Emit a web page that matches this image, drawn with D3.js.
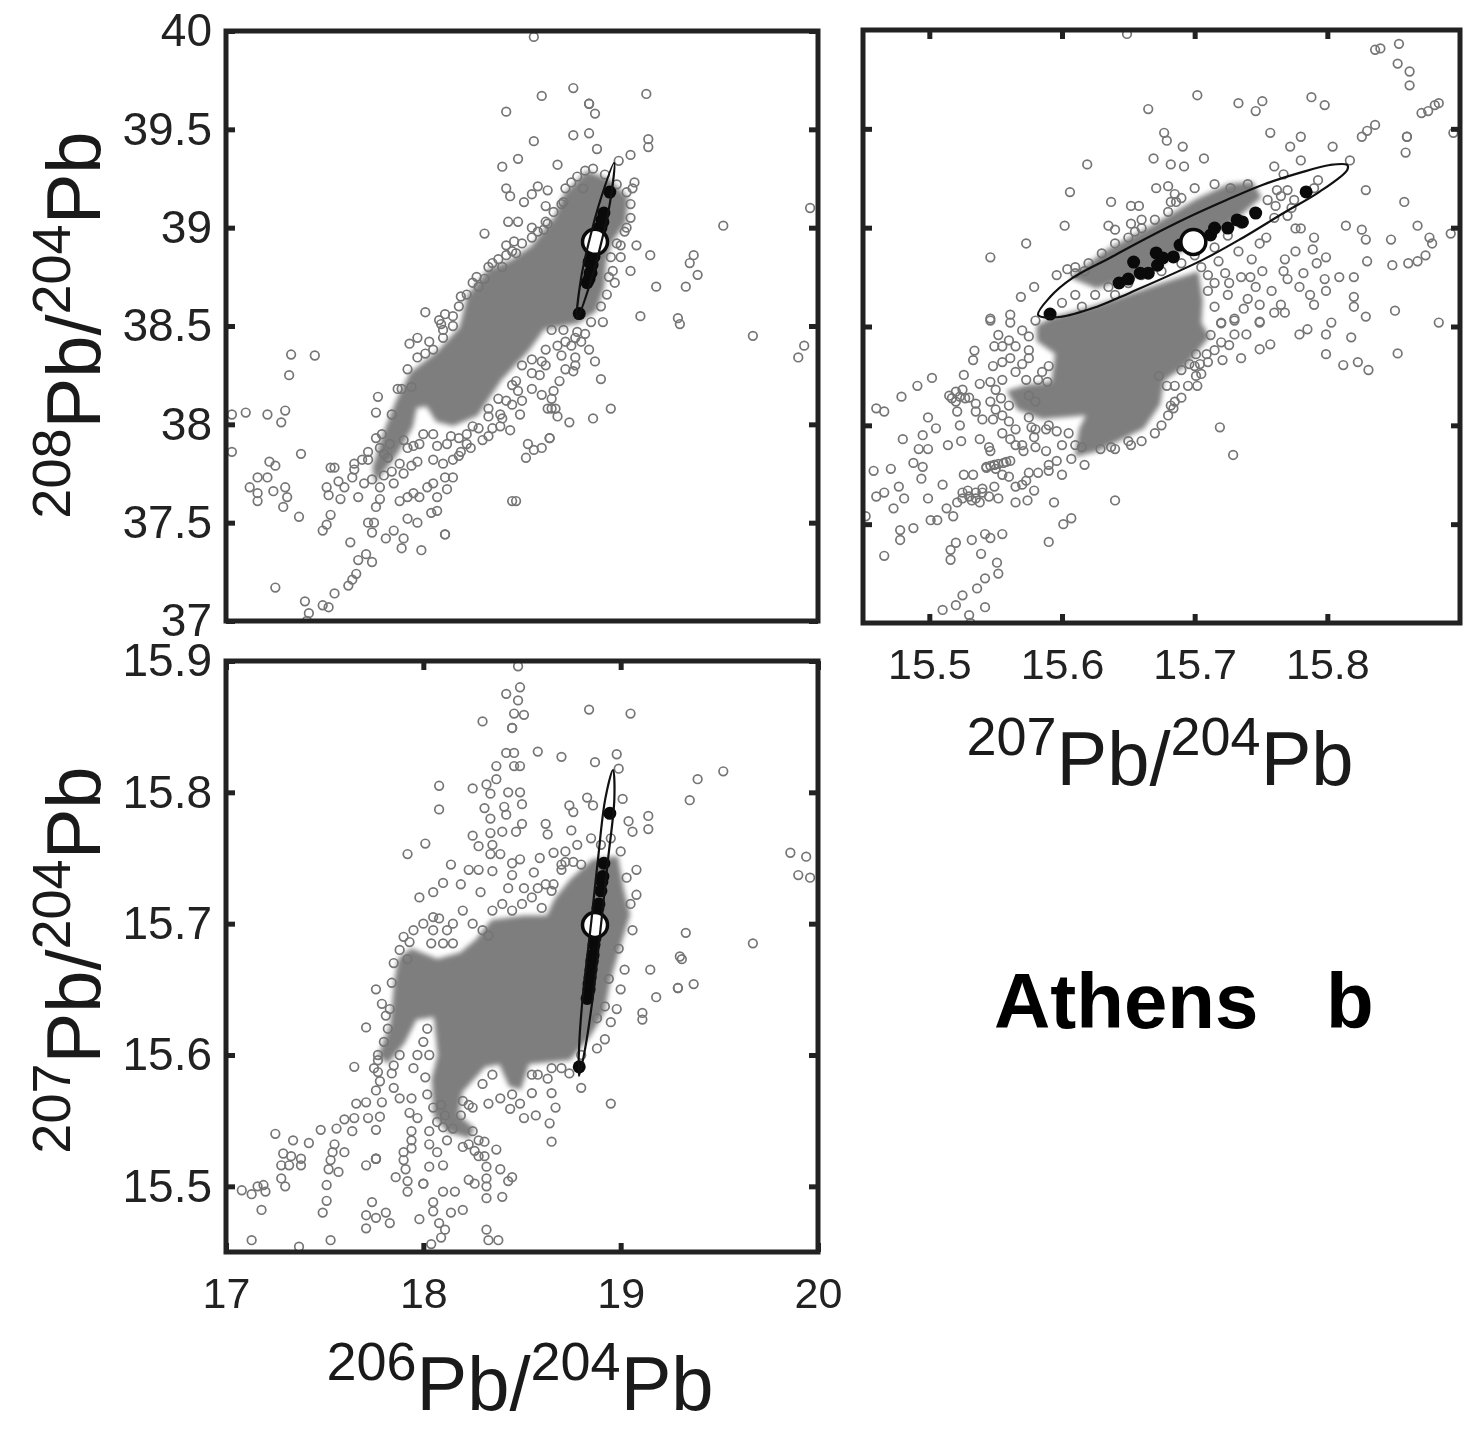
<!DOCTYPE html>
<html>
<head>
<meta charset="utf-8">
<script src="https://cdn.jsdelivr.net/npm/d3@7"></script>
<style>
  body { margin: 0; background: #fff; }
  svg { display: block; filter: blur(0.7px); font-family: "Liberation Sans", Arial, sans-serif; }
  path.dense { filter: blur(2.5px); }
</style>
</head>
<body>
<div id="chart"></div>
<script>
// values
// 206Pb/204Pb vs 208Pb/204Pb
const cloud0608 = [
  [18.56,39.97],[18.76,39.71],[18.60,39.67],[18.42,39.59],[18.84,39.63],[18.84,39.63],[18.87,39.58],[19.13,39.68],
  [18.76,39.47],[18.84,39.48],[18.56,39.44],[18.88,39.40],[19.14,39.45],[19.14,39.41],[19.05,39.37],[18.99,39.34],
  [18.48,39.35],[18.40,39.31],[18.68,39.32],[18.42,39.20],[18.44,39.16],[18.55,39.17],[18.58,39.21],[18.63,39.19],
  [18.51,39.13],[18.62,39.11],[18.75,39.23],[18.81,39.20],[19.07,39.23],[19.06,39.20],[18.71,39.13],[18.43,39.03],
  [18.48,39.03],[18.62,39.03],[18.31,38.97],[18.55,39.00],[18.61,38.99],[18.46,38.93],[18.42,38.91],[18.47,38.87],
  [18.42,38.86],[19.02,38.98],[19.00,38.91],[19.08,38.91],[19.00,38.85],[19.15,38.86],[19.37,38.86],[19.35,38.82],
  [19.39,38.76],[19.05,38.78],[18.96,38.78],[18.97,38.72],[19.18,38.70],[19.33,38.70],[19.52,39.01],[19.96,39.10],
  [19.10,38.55],[19.29,38.54],[19.30,38.51],[18.91,38.52],[18.01,38.57],[18.11,38.56],[18.08,38.53],[18.19,38.65],
  [18.27,38.75],[18.31,38.74],[18.35,38.82],
  [17.33,38.355],[17.45,38.35],[17.32,38.25],[17.03,38.05],[17.10,38.06],[17.21,38.05],[17.30,38.07],[17.28,38.01],
  [17.03,37.86],[17.38,37.85],[17.22,37.81],[17.25,37.79],[17.16,37.73],[17.21,37.73],[17.12,37.68],[17.16,37.65],
  [17.16,37.61],[17.24,37.66],[17.30,37.68],[17.31,37.63],[17.29,37.58],[17.37,37.53],[17.53,37.78],[17.55,37.78],
  [17.57,37.71],[17.60,37.68],[17.51,37.68],[17.52,37.64],[17.58,37.62],[17.53,37.54],[17.51,37.49],[17.49,37.46],
  [17.63,37.40],[17.72,37.50],[17.75,37.50],[17.74,37.45],[17.67,37.31],[17.71,37.34],[17.74,37.30],[17.66,37.24],
  [17.64,37.21],[17.62,37.18],[17.25,37.17],[17.55,37.14],[17.40,37.10],[17.49,37.08],[17.52,37.07],[17.42,37.04],
  [17.41,37.00],[17.65,37.80],[17.65,37.77],[17.69,37.82],[17.72,37.86],[17.64,37.73],[17.70,37.70],[17.67,37.63],
  [17.76,37.58],[17.81,37.42],[17.85,37.46],[17.90,37.42],[17.89,37.37],[17.99,37.36],[18.11,37.44],[18.11,37.44],
  [17.92,37.52],[17.97,37.50],[17.88,37.61],[17.92,37.63],[17.95,37.65],[17.98,37.63],[18.02,37.68],[18.05,37.70],
  [18.07,37.63],[18.04,37.55],[18.07,37.56],[17.78,37.62],[18.15,37.73],[18.11,37.73],[18.12,37.67],[18.45,37.61],
  [18.47,37.61],[18.52,37.83],[18.53,37.90],[18.56,37.87],[18.60,37.88],[18.64,37.93],[18.64,37.93],[18.74,38.01],
  [18.86,38.03],[18.95,38.08],[18.90,38.23],[18.87,38.32],[18.84,38.38],[19.67,38.45],[19.93,38.40],[19.90,38.34],
  [18.65,38.08],[18.67,38.08],[18.63,38.08],[18.68,38.04],[18.66,38.17],[18.65,38.13],[18.69,38.22],[18.77,38.34],
  [18.76,38.27],[18.77,38.30],[18.82,38.46],[18.77,38.44],[18.65,38.48],[18.71,38.48],[18.55,38.33],[18.59,38.25],
  [18.47,38.22],[18.48,38.17],[18.49,38.05],[18.44,37.97],[18.39,37.99],[18.33,37.94],[18.24,37.88],[18.19,37.86],
  [18.15,37.82],[18.10,37.80],[18.05,37.82],[18.07,37.89],[18.14,37.94],[18.25,37.99],[18.33,38.04],[18.39,38.05],
  [17.95,37.89],[17.94,37.79],[17.97,37.81],[17.82,37.83],[17.76,37.93],[17.76,38.06],[17.77,38.14],[17.89,38.18],
  [17.94,38.19],[18.01,38.36],[17.93,38.41],[17.97,38.44],[18.05,38.38],[18.09,38.51],[18.10,38.48],
  // fringe of the saturated part
  [18.15,38.55],[18.18,38.60],[18.22,38.66],[18.25,38.72],[18.28,38.70],[18.33,38.80],[18.38,38.84],[18.40,38.80],
  [18.45,38.88],[18.50,38.92],[18.55,38.95],[18.58,38.98],[18.63,39.02],[18.66,39.08],[18.70,39.12],[18.72,39.20],
  [18.78,39.26],[18.82,39.29],[18.86,39.30],[18.92,39.27],[18.98,39.22],[19.03,39.18],[19.05,39.12],[19.05,39.05],
  [19.03,39.00],[18.98,38.92],[18.95,38.85],[18.94,38.75],[18.93,38.66],[18.90,38.60],[18.85,38.52],[18.78,38.47],
  [18.72,38.42],[18.68,38.40],[18.62,38.38],[18.60,38.32],[18.55,38.26],[18.50,38.30],[18.45,38.20],[18.42,38.12],
  [18.38,38.13],[18.33,38.08],[18.28,37.98],[18.22,37.95],[18.18,37.93],[18.12,37.90],[18.05,37.95],[18.00,37.95],
  [17.98,37.90],[17.92,37.88],[17.90,37.92],[17.88,37.80],[17.84,37.76],[17.80,37.74],[17.78,37.68],[17.74,37.72],
  [17.72,37.82],[17.78,37.88],[17.79,37.95],[17.84,38.05],[17.87,38.18],[17.92,38.28],[17.97,38.34],[18.03,38.42],
  [18.10,38.44],[18.15,38.50],[18.50,38.12],[18.55,38.18],[18.60,38.15],[18.45,38.10],[18.40,38.03],[18.35,37.98],
  [18.30,37.92],[18.22,37.90],[18.18,37.84],[18.62,38.30],[18.70,38.35],[18.75,38.40],[18.80,38.42],[18.72,38.28],
  [17.83,37.90],[17.80,37.85],[17.85,37.70],[17.90,37.75]
];
// saturated part of the cloud, outline only: single circles can't be told apart there
const dense0608 = [
  [18.83,39.28],[18.94,39.24],[19.03,39.15],[19.02,39.03],[18.95,38.93],[18.92,38.83],[18.91,38.70],[18.87,38.58],
  [18.78,38.52],[18.61,38.49],[18.53,38.38],[18.39,38.23],[18.27,38.05],[18.15,38.00],[18.07,38.02],[18.02,38.10],
  [17.96,38.09],[17.94,37.99],[17.86,37.85],[17.76,37.72],[17.75,37.78],[17.81,37.97],[17.87,38.12],[17.94,38.26],
  [18.07,38.36],[18.19,38.49],[18.23,38.65],[18.33,38.78],[18.45,38.83],[18.55,38.90],[18.67,39.05],[18.72,39.17]
];
const ellipse0608 = [
  [18.967,39.33],[18.946,39.127],[18.903,38.929],[18.850,38.731],[18.779,38.538],
  [18.799,38.741],[18.842,38.939],[18.896,39.137]
];

// 207Pb/204Pb vs 208Pb/204Pb
const cloud0708 = [
  [15.649,39.98],[15.840,39.907],[15.836,39.90],[15.854,39.93],[15.853,39.83],[15.862,39.79],[15.862,39.72],[15.702,39.67],
  [15.733,39.63],[15.751,39.64],[15.746,39.59],[15.788,39.66],[15.798,39.62],[15.665,39.60],[15.871,39.58],[15.876,39.59],
  [15.881,39.62],[15.884,39.63],[15.836,39.52],[15.830,39.49],[15.826,39.46],[15.860,39.46],[15.860,39.46],[15.859,39.38],
  [15.895,39.48],[15.757,39.48],[15.780,39.46],[15.772,39.41],[15.804,39.41],[15.677,39.48],[15.679,39.44],[15.691,39.41],
  [15.669,39.35],[15.682,39.32],[15.692,39.31],[15.707,39.35],[15.619,39.32],[15.760,39.31],[15.780,39.34],[15.817,39.34],
  [15.606,39.18],[15.671,39.20],[15.680,39.21],[15.685,39.17],[15.682,39.13],[15.686,39.13],[15.637,39.13],[15.652,39.11],
  [15.658,39.11],[15.602,39.01],[15.635,39.01],[15.640,38.99],[15.652,39.02],[15.660,39.04],[15.660,38.997],[15.573,38.92],
  [15.546,38.85],[15.829,39.19],[15.858,39.13],[15.868,39.01],[15.814,39.01],[15.826,38.99],[15.829,38.94],[15.848,38.94],
  [15.877,38.95],[15.879,38.92],[15.874,38.86],[15.868,38.83],[15.861,38.82],[15.849,38.81],[15.893,38.97],[15.830,38.83],
  [15.790,38.95],[15.789,38.89],[15.792,38.82],[15.799,38.85],[15.776,38.88],[15.768,38.84],[15.767,38.78],[15.770,38.74],
  [15.782,38.77],[15.798,38.74],[15.809,38.75],[15.820,38.75],[15.779,38.70],[15.787,38.66],[15.799,38.68],[15.790,38.61],
  [15.820,38.65],[15.820,38.60],[15.765,38.61],[15.760,38.57],[15.768,38.57],[15.829,38.55],[15.851,38.58],[15.803,38.52],
  [15.884,38.52],[15.749,38.52],[15.737,38.59],[15.730,38.54],[15.749,38.61],[15.758,38.68],[15.746,38.70],[15.751,38.78],
  [15.742,38.75],[15.735,38.75],[15.726,38.72],[15.723,38.77],[15.743,38.84],[15.718,38.83],[15.749,38.92],[15.754,38.95],
  [15.733,38.88],[15.776,38.996],[15.780,38.996],[15.773,39.10],[15.761,39.11],[15.770,39.19],[15.762,39.19],[15.793,39.24],
  [15.767,39.27],[15.740,39.22],[15.727,39.20],[15.569,38.65],[15.579,38.70],[15.596,38.76],[15.604,38.79],[15.610,38.77],
  [15.617,38.78],[15.546,38.54],[15.561,38.56],[15.561,38.52],
  [15.546,38.53],[15.552,38.457],[15.560,38.43],[15.549,38.40],[15.534,38.378],[15.533,38.33],[15.548,38.30],[15.555,38.32],
  [15.561,38.34],[15.526,38.255],[15.502,38.24],[15.491,38.20],[15.479,38.145],[15.460,38.086],[15.466,38.07],[15.520,38.17],
  [15.523,38.145],[15.527,38.137],[15.517,38.137],[15.538,38.21],[15.546,38.22],[15.555,38.23],[15.565,38.27],[15.573,38.23],
  [15.582,38.23],[15.589,38.22],[15.499,38.04],[15.505,37.985],[15.495,37.95],[15.480,37.93],[15.521,38.07],[15.523,38.00],
  [15.535,38.07],[15.540,38.03],[15.548,38.03],[15.555,38.05],[15.546,38.12],[15.554,38.137],[15.514,37.90],[15.524,37.92],
  [15.499,37.88],[15.492,37.88],[15.538,37.93],[15.545,37.89],[15.546,37.87],[15.561,37.93],[15.570,37.90],[15.571,37.87],
  [15.565,37.98],[15.577,37.99],[15.579,37.94],[15.588,37.87],[15.588,37.98],[15.596,37.97],[15.488,37.81],[15.495,37.79],
  [15.471,37.78],[15.458,37.77],[15.494,37.73],[15.510,37.70],[15.477,37.69],[15.466,37.66],[15.460,37.64],[15.481,37.63],
  [15.473,37.58],[15.499,37.63],[15.452,37.54],[15.513,37.58],[15.518,37.54],[15.501,37.52],[15.506,37.52],[15.478,37.47],
  [15.478,37.42],[15.488,37.48],[15.466,37.34],[15.526,37.75],[15.533,37.75],[15.529,37.67],[15.535,37.66],[15.540,37.66],
  [15.549,37.69],[15.552,37.63],[15.532,37.62],[15.521,37.61],[15.538,37.61],[15.565,37.69],[15.573,37.72],[15.579,37.67],
  [15.582,37.76],[15.590,37.77],[15.596,37.82],[15.607,37.83],[15.617,37.80],[15.565,37.61],[15.574,37.62],[15.594,37.61],
  [15.640,37.62],[15.607,37.53],[15.601,37.50],[15.590,37.41],[15.532,37.42],[15.520,37.406],[15.516,37.37],[15.516,37.32],
  [15.542,37.45],[15.546,37.43],[15.555,37.45],[15.539,37.35],[15.551,37.305],[15.552,37.25],[15.542,37.226],[15.536,37.175],
  [15.525,37.14],[15.520,37.09],[15.510,37.066],[15.542,37.08],[15.530,37.04],[15.531,37.00],[15.719,37.99],[15.729,37.85],
  [15.702,38.20],[15.701,38.25],[15.704,38.31],[15.709,38.36],[15.701,38.36],[15.712,38.457],[15.720,38.516],[15.730,38.53],
  [15.684,38.086],[15.682,38.10],[15.652,37.90],[15.637,37.89],[15.629,37.88],[15.615,37.89],[15.739,38.46],[15.749,38.385],
  [15.757,38.41],[15.721,38.33],[15.735,38.34],[15.726,38.406],[15.749,38.525],[15.779,38.46],[15.785,38.486],[15.799,38.46],
  [15.818,38.445],[15.799,38.36],[15.812,38.305],[15.823,38.32],[15.831,38.28],[15.853,38.364],[15.673,38.25],[15.679,38.20],
  [15.690,38.28],[15.696,38.31],[15.543,37.79],[15.549,37.80],[15.556,37.81],[15.561,37.82],
  // fringe of the saturated part, inside the ellipse and around the blob
  [15.60,38.62],[15.61,38.66],[15.615,38.60],[15.625,38.66],[15.635,38.70],[15.64,38.66],[15.65,38.72],[15.66,38.76],
  [15.675,38.78],[15.69,38.82],[15.70,38.86],[15.715,38.90],[15.725,38.96],[15.735,39.02],[15.745,39.08],[15.755,39.14],
  [15.765,39.16],[15.775,39.14],[15.785,39.18],[15.79,39.20],[15.76,39.05],[15.77,39.06],
  [15.715,38.72],[15.725,38.66],[15.715,38.60],[15.72,38.52],[15.73,38.46],[15.71,38.68],[15.74,38.64],[15.705,38.80],[15.71,38.76],
  [15.695,38.20],[15.69,38.14],[15.685,38.20],[15.70,38.30],[15.705,38.26],[15.71,38.32],[15.715,38.38],[15.72,38.42],
  [15.685,38.12],[15.68,38.05],[15.675,38.00],[15.67,37.96],[15.66,37.92],[15.65,37.92],[15.64,37.88],
  [15.575,38.15],[15.58,38.12],[15.56,38.10],[15.55,38.08],[15.56,38.02],[15.575,38.04],[15.58,37.98],[15.59,38.00],
  [15.605,37.96],[15.60,37.90],[15.61,37.90],[15.58,37.89],[15.565,37.90],[15.555,37.96],[15.55,38.18],[15.57,38.31],
  [15.575,38.38],[15.575,38.45],[15.575,38.34],[15.585,38.27],[15.59,38.30],[15.565,38.40],[15.57,38.48],[15.58,38.53],[15.555,38.40],
  [15.515,38.15],[15.525,38.18],[15.53,38.14],[15.52,38.12],[15.535,38.11],
  [15.525,37.66],[15.53,37.64],[15.545,37.64],[15.535,37.63],[15.525,37.63],[15.54,37.68],[15.55,37.78],[15.555,37.75],
  [15.60,37.75],[15.59,37.80],[15.575,37.76],[15.56,37.74],[15.57,37.70],
  [15.546,37.795],[15.552,37.805],[15.558,37.815],[15.543,37.785],[15.549,37.80],
  [15.63,38.87],[15.64,38.92],[15.65,38.95],[15.62,38.82],[15.61,38.80],[15.655,38.98],[15.67,39.04],[15.68,39.08],
  [15.69,39.15],[15.70,39.20],[15.715,39.22]
];
const dense0708 = [
  [15.593,38.54],[15.626,38.60],[15.679,38.72],[15.702,38.77],[15.705,38.63],[15.704,38.516],[15.710,38.45],[15.693,38.31],
  [15.676,38.23],[15.673,38.11],[15.661,37.99],[15.643,37.93],[15.626,37.875],[15.611,37.85],[15.614,37.98],[15.620,38.06],
  [15.604,38.05],[15.585,38.04],[15.567,38.086],[15.560,38.17],[15.573,38.196],[15.593,38.213],[15.596,38.364],[15.582,38.43],
  [15.582,38.50]
];
const band0708 = [
  [15.608,38.75],[15.635,38.886],[15.667,39.00],[15.702,39.14],[15.726,39.215],[15.743,39.224],[15.749,39.156],[15.729,39.04],
  [15.708,38.954],[15.685,38.87],[15.667,38.785],[15.643,38.735],[15.626,38.70]
];
const ellipse0708 = [
  [15.582,38.558],[15.598,38.548],[15.626,38.599],[15.651,38.670],[15.706,38.837],[15.736,38.948],[15.767,39.074],
  [15.794,39.181],[15.815,39.292],[15.815,39.317],[15.802,39.317],[15.779,39.277],[15.751,39.216],[15.724,39.140],
  [15.694,39.049],[15.664,38.948],[15.636,38.847],[15.608,38.746],[15.591,38.649]
];

// 206Pb/204Pb vs 207Pb/204Pb
const cloud0607 = [
  [18.48,15.896],[18.49,15.880],[18.42,15.875],[18.48,15.870],[18.46,15.860],[18.51,15.859],[18.30,15.854],[18.45,15.849],
  [18.45,15.849],[18.84,15.863],[19.05,15.860],[18.42,15.830],[18.46,15.830],[18.58,15.831],[18.70,15.827],[18.87,15.823],
  [18.98,15.829],[18.99,15.818],[18.37,15.820],[18.46,15.820],[18.49,15.820],[18.37,15.810],[18.32,15.806],[18.25,15.803],
  [18.08,15.805],[18.34,15.799],[18.43,15.800],[18.49,15.800],[19.39,15.810],[19.52,15.816],[19.35,15.794],[18.08,15.787],
  [18.31,15.788],[18.41,15.789],[18.50,15.791],[18.34,15.780],[18.42,15.783],[19.01,15.795],[18.83,15.796],[18.74,15.790],
  [18.76,15.785],[18.86,15.790],[19.14,15.782],[19.14,15.772],[19.04,15.778],[19.06,15.770],[18.62,15.776],[18.63,15.768],
  [18.50,15.776],[18.75,15.771],[18.47,15.770],[18.40,15.770],[18.34,15.769],[18.25,15.767],[18.01,15.761],[17.92,15.753],
  [18.28,15.759],[18.35,15.760],[18.34,15.753],[18.39,15.753],[18.66,15.754],[18.59,15.750],[18.49,15.749],[18.45,15.746],
  [18.14,15.745],[18.23,15.741],[18.28,15.741],[18.35,15.740],[18.56,15.739],[18.72,15.747],[18.76,15.747],[18.70,15.741],
  [19.08,15.741],[19.08,15.722],[19.86,15.754],[19.94,15.751],[19.90,15.737],[19.96,15.735],[18.10,15.731],[18.19,15.730],
  [18.29,15.724],[18.05,15.724],[17.98,15.720],[18.43,15.727],[18.51,15.727],[18.58,15.727],[18.65,15.725],[18.45,15.737],
  [18.05,15.705],[18.08,15.704],[18.04,15.685],[18.10,15.685],[18.15,15.685],[17.93,15.686],[17.92,15.673],[18.33,15.691],
  [19.33,15.693],[19.67,15.685],[19.30,15.675],[18.99,15.681],
  [19.31,15.673],[19.15,15.665],[19.37,15.654],[19.29,15.651],[19.29,15.651],[19.18,15.644],[19.11,15.632],[19.11,15.627],
  [17.76,15.650],[17.79,15.639],[17.81,15.630],[17.71,15.621],[17.65,15.591],[17.77,15.596],[17.77,15.587],[17.84,15.586],
  [17.85,15.592],[17.78,15.580],[17.76,15.573],[17.79,15.564],[17.71,15.564],[17.66,15.563],[17.88,15.567],[17.94,15.567],
  [18.01,15.583],[17.93,15.556],[17.97,15.552],[17.78,15.553],[17.72,15.552],[17.65,15.552],[17.60,15.551],[17.56,15.544],
  [17.64,15.542],[17.76,15.543],[17.48,15.543],[17.25,15.540],[17.42,15.533],[17.34,15.535],[17.29,15.525],[17.33,15.523],
  [17.32,15.516],[17.28,15.516],[17.38,15.521],[17.38,15.516],[17.55,15.532],[17.60,15.526],[17.54,15.526],[17.53,15.520],
  [17.52,15.513],[17.57,15.511],[17.76,15.521],[17.76,15.521],[17.76,15.521],[17.71,15.516],[17.94,15.542],[17.94,15.535],
  [17.94,15.529],[17.90,15.526],[17.90,15.520],[17.91,15.513],[17.86,15.507],[18.03,15.542],[18.03,15.532],[18.07,15.526],
  [18.03,15.515],[18.10,15.516],[17.92,15.504],[17.92,15.496],[18.00,15.502],[18.00,15.502],[18.05,15.488],[18.10,15.496],
  [18.16,15.496],[17.28,15.506],[17.30,15.500],[17.08,15.497],[17.13,15.494],[17.16,15.500],[17.19,15.501],[17.20,15.496],
  [17.51,15.501],[17.51,15.489],[17.49,15.480],[17.18,15.482],[17.74,15.488],[17.71,15.478],[17.76,15.476],[17.81,15.480],
  [17.83,15.472],[17.71,15.468],[17.98,15.475],[18.05,15.481],[18.14,15.480],[18.20,15.482],[18.08,15.472],[18.11,15.467],
  [18.09,15.461],[18.04,15.456],[17.13,15.459],[17.53,15.459],[17.37,15.454],[18.32,15.467],[18.33,15.459],[18.38,15.459],
  [18.23,15.505],[18.26,15.502],[18.32,15.506],[18.32,15.500],[18.32,15.491],[18.40,15.492],[18.39,15.513],[18.45,15.507],
  [18.43,15.504],[18.26,15.527],[18.28,15.523],[18.32,15.515],[18.37,15.528],[18.31,15.523],[18.65,15.534],[18.64,15.548],
  [18.57,15.554],[18.51,15.552],[18.55,15.571],[18.65,15.571],[18.67,15.560],[18.63,15.582],[18.55,15.585],[18.74,15.586],
  [18.80,15.575],[18.95,15.563],[18.49,15.563],[18.44,15.559],[18.39,15.567],[18.33,15.563],[18.23,15.562],[18.19,15.554],
  [18.15,15.544],[18.25,15.542],[18.31,15.534],[18.23,15.532],[18.11,15.554],[18.07,15.549],[18.09,15.562],[18.94,15.658],
  [18.92,15.637],[18.88,15.628],
  // fringe of the saturated part
  [18.30,15.695],[18.35,15.71],[18.40,15.715],[18.45,15.71],[18.50,15.715],[18.55,15.72],[18.60,15.712],[18.62,15.73],
  [18.66,15.73],[18.70,15.745],[18.72,15.755],[18.78,15.76],[18.80,15.745],[18.85,15.765],[18.90,15.76],[18.95,15.765],
  [19.00,15.755],[19.03,15.735],[19.05,15.715],[19.06,15.695],[19.02,15.665],[19.00,15.65],[18.98,15.635],[18.95,15.625],
  [18.92,15.612],[18.88,15.605],[18.80,15.60],[18.70,15.59],[18.65,15.59],[18.58,15.585],[18.45,15.57],[18.35,15.585],
  [18.30,15.578],[18.25,15.56],[18.20,15.565],[17.90,15.69],[17.95,15.695],[18.00,15.70],[18.05,15.695],[18.12,15.695],
  [18.15,15.70],[18.20,15.71],[18.25,15.70],[17.88,15.68],[17.85,15.67],[17.84,15.655],[17.83,15.635],[17.82,15.62],
  [17.80,15.61],[17.77,15.60],[17.75,15.59],[18.10,15.545],[18.12,15.535],[18.20,15.53],[18.28,15.535],[18.05,15.56],
  [18.02,15.57],[18.03,15.60],[18.02,15.62],[18.00,15.61],[17.97,15.60],[17.95,15.59],[17.88,15.60],[17.85,15.575]
];
const dense0607 = [
  [18.19,15.677],[18.27,15.687],[18.35,15.702],[18.51,15.705],[18.63,15.705],[18.67,15.718],[18.75,15.733],[18.86,15.748],
  [18.98,15.750],[19.01,15.725],[19.04,15.707],[18.98,15.677],[18.94,15.656],[18.91,15.633],[18.84,15.615],[18.74,15.597],
  [18.53,15.594],[18.49,15.575],[18.44,15.577],[18.39,15.594],[18.31,15.592],[18.19,15.572],[18.17,15.554],[18.25,15.544],
  [18.23,15.538],[18.13,15.542],[18.06,15.554],[18.05,15.582],[18.08,15.600],[18.06,15.630],[17.96,15.628],[17.90,15.610],
  [17.82,15.595],[17.78,15.600],[17.84,15.623],[17.86,15.656],[17.88,15.673],[17.94,15.680],[18.07,15.672]
];
const ellipse0607 = [
  [18.961,15.817],[18.968,15.795],[18.936,15.749],[18.901,15.700],[18.858,15.643],[18.820,15.605],[18.789,15.584],
  [18.789,15.605],[18.807,15.643],[18.850,15.700],[18.885,15.749],[18.922,15.795]
];

// black samples, same order in all three
const samplePb206 = [18.79,18.83,18.84,18.84,18.845,18.85,18.855,18.855,18.86,18.865,18.87,18.885,18.89,18.90,18.905,18.91,18.915,18.945];
const samplePb207 = [15.591,15.643,15.650,15.654,15.659,15.665,15.671,15.672,15.676,15.684,15.689,15.712,15.715,15.725,15.732,15.736,15.746,15.784];
const samplePb208 = [38.563,38.72,38.74,38.826,38.77,38.77,38.872,38.81,38.847,38.852,38.912,38.963,38.998,38.998,39.039,39.029,39.074,39.181];
const meanPb = { pb206: 18.87, pb207: 15.699, pb208: 38.928 };

const ticks208 = [37, 37.5, 38, 38.5, 39, 39.5, 40];
const ticks207 = [15.5, 15.6, 15.7, 15.8];
const ticks207Left = [15.5, 15.6, 15.7, 15.8, 15.9];
const ticks206 = [17, 18, 19, 20];

const svg = d3.select("#chart").append("svg")
  .attr("width", 1469)
  .attr("height", 1429);

const grey = "#7e7e7e";
let clipId = 0;

function drawPanel(p) {
  const x = d3.scaleLinear().domain(p.xDomain).range([p.left, p.right]);
  const y = d3.scaleLinear().domain(p.yDomain).range([p.bottom, p.top]);
  const g = svg.append("g");

  clipId++;
  svg.append("clipPath").attr("id", "clip" + clipId)
    .append("rect")
    .attr("x", p.left).attr("y", p.top)
    .attr("width", p.right - p.left).attr("height", p.bottom - p.top);

  const plot = g.append("g").attr("clip-path", "url(#clip" + clipId + ")");
  const area = d3.line().x(d => x(d[0])).y(d => y(d[1])).curve(d3.curveLinearClosed);
  const oval = d3.line().x(d => x(d[0])).y(d => y(d[1])).curve(d3.curveCatmullRomClosed.alpha(0.5));

  plot.selectAll("path.dense")
    .data(p.dense)
    .join("path")
    .attr("class", "dense")
    .attr("d", area)
    .attr("fill", grey)
    .attr("stroke", grey)
    .attr("stroke-width", 3);

  plot.selectAll("circle.cloud")
    .data(p.cloud)
    .join("circle")
    .attr("class", "cloud")
    .attr("cx", d => x(d[0]))
    .attr("cy", d => y(d[1]))
    .attr("r", 4.3)
    .attr("fill", "none")
    .attr("stroke", "#757575")
    .attr("stroke-width", 1.7);

  plot.selectAll("circle.sample")
    .data(p.samples)
    .join("circle")
    .attr("class", "sample")
    .attr("cx", d => x(d[0]))
    .attr("cy", d => y(d[1]))
    .attr("r", 6.5)
    .attr("fill", "#0a0a0a");

  plot.append("circle")
    .attr("cx", x(p.mean[0]))
    .attr("cy", y(p.mean[1]))
    .attr("r", 12.5)
    .attr("fill", "#fff")
    .attr("stroke", "#0a0a0a")
    .attr("stroke-width", 3.5);

  plot.append("path")
    .attr("d", oval(p.ellipse))
    .attr("fill", "none")
    .attr("stroke", "#111")
    .attr("stroke-width", 2.2);

  // frame and ticks
  const tickLen = -9;
  const axes = g.append("g").attr("class", "axes");

  const styleAxis = (sel, size) => {
    sel.select(".domain").remove();
    sel.selectAll(".tick line").attr("stroke", "#222").attr("stroke-width", 5);
    sel.selectAll(".tick text").attr("fill", "#222").attr("font-size", size)
      .attr("font-family", "'Liberation Sans', Arial, sans-serif");
  };

  if (p.yLabels) {
    axes.append("g").attr("transform", `translate(${p.left},0)`)
      .call(d3.axisLeft(y).tickValues(p.yTicks).tickSize(tickLen).tickPadding(14)
        .tickFormat(d3.format("~g")))
      .call(styleAxis, 46);
  } else {
    axes.append("g").attr("transform", `translate(${p.left},0)`)
      .call(d3.axisLeft(y).tickValues(p.yTicks).tickSize(tickLen).tickFormat(""))
      .call(styleAxis, 46);
  }
  axes.append("g").attr("transform", `translate(${p.right},0)`)
    .call(d3.axisRight(y).tickValues(p.yTicks).tickSize(tickLen).tickFormat(""))
    .call(styleAxis, 46);

  if (p.xTicks) {
    axes.append("g").attr("transform", `translate(0,${p.bottom})`)
      .call(d3.axisBottom(x).tickValues(p.xTicks).tickSize(tickLen).tickPadding(25)
        .tickFormat(d3.format("~g")))
      .call(styleAxis, 43);
    axes.append("g").attr("transform", `translate(0,${p.top})`)
      .call(d3.axisTop(x).tickValues(p.xTicks).tickSize(tickLen).tickFormat(""))
      .call(styleAxis, 43);
  }

  axes.append("rect")
    .attr("x", p.left).attr("y", p.top)
    .attr("width", p.right - p.left).attr("height", p.bottom - p.top)
    .attr("fill", "none")
    .attr("stroke", "#222")
    .attr("stroke-width", 5);
}

function isotopeLabel(a, b, px, py, rotate) {
  const t = svg.append("text")
    .attr("text-anchor", "middle")
    .attr("fill", "#1a1a1a")
    .attr("transform", `translate(${px},${py})` + (rotate ? " rotate(-90)" : ""));
  t.append("tspan").attr("font-size", 54).attr("dy", -30).text(a);
  t.append("tspan").attr("font-size", 76).attr("dy", 30).text("Pb/");
  t.append("tspan").attr("font-size", 54).attr("dy", -30).text(b);
  t.append("tspan").attr("font-size", 76).attr("dy", 30).text("Pb");
}

drawPanel({
  left: 226, right: 818, top: 31, bottom: 621,
  xDomain: [17, 20], yDomain: [37, 40],
  yTicks: ticks208, yLabels: true,
  cloud: cloud0608, dense: [dense0608], ellipse: ellipse0608,
  samples: samplePb206.map((d, i) => [d, samplePb208[i]]),
  mean: [meanPb.pb206, meanPb.pb208]
});

drawPanel({
  left: 863, right: 1460, top: 30, bottom: 623,
  xDomain: [15.45, 15.9], yDomain: [37, 40],
  yTicks: ticks208.slice(1, -1), xTicks: ticks207,
  cloud: cloud0708, dense: [dense0708, band0708], ellipse: ellipse0708,
  samples: samplePb207.map((d, i) => [d, samplePb208[i]]),
  mean: [meanPb.pb207, meanPb.pb208]
});

drawPanel({
  left: 226, right: 818, top: 661, bottom: 1252,
  xDomain: [17, 20], yDomain: [15.45, 15.9],
  yTicks: ticks207Left, yLabels: true, xTicks: ticks206,
  cloud: cloud0607, dense: [dense0607], ellipse: ellipse0607,
  samples: samplePb206.map((d, i) => [d, samplePb207[i]]),
  mean: [meanPb.pb206, meanPb.pb207]
});

isotopeLabel("208", "204", 100, 325, true);
isotopeLabel("207", "204", 100, 960, true);
isotopeLabel("207", "204", 1160, 785, false);
isotopeLabel("206", "204", 520, 1410, false);

svg.append("text").attr("x", 994).attr("y", 1028)
  .attr("font-size", 78).attr("font-weight", "bold").attr("fill", "#000").text("Athens");
svg.append("text").attr("x", 1326).attr("y", 1028)
  .attr("font-size", 78).attr("font-weight", "bold").attr("fill", "#000").text("b");
</script>
</body>
</html>
